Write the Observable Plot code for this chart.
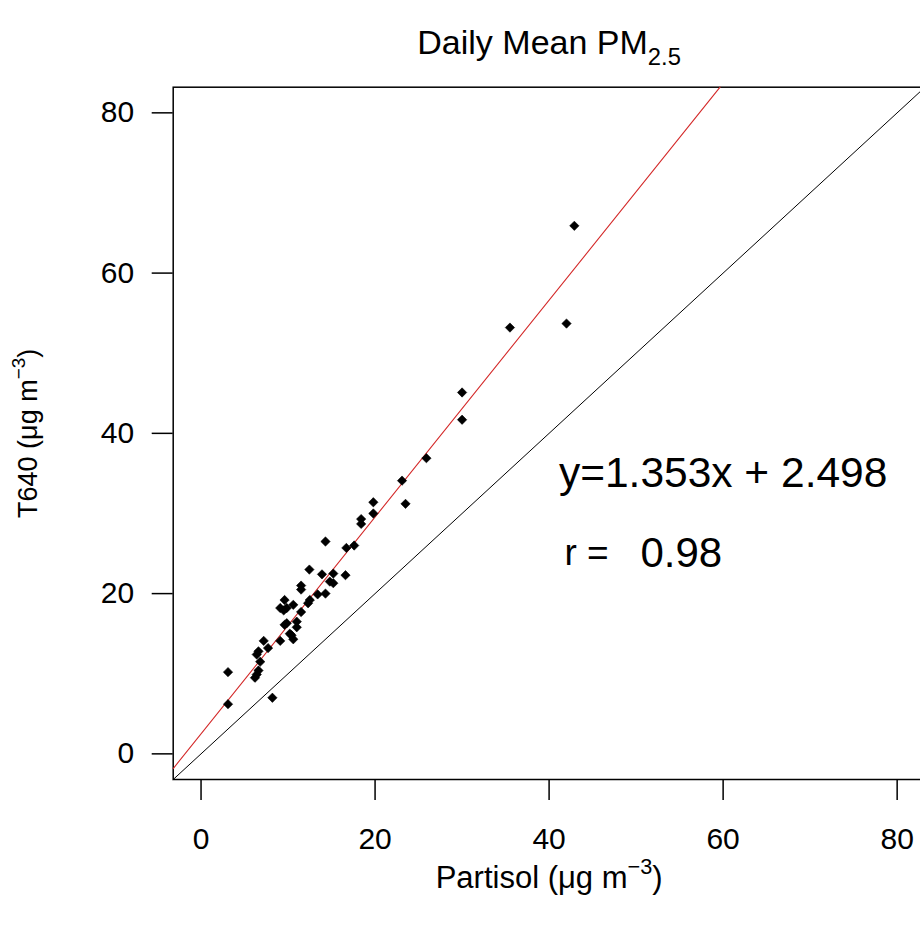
<!DOCTYPE html>
<html>
<head>
<meta charset="utf-8">
<script src="https://cdn.jsdelivr.net/npm/d3@7"></script>
<script src="https://cdn.jsdelivr.net/npm/@observablehq/plot@0.6"></script>
<style>
  html, body { margin: 0; padding: 0; background: #fff; overflow: hidden; }
  #chart svg { display: block; }
</style>
</head>
<body>
<div id="chart"></div>
<script>
// ---- data ----
const partisol = [3.1, 3.1, 8.2, 6.2, 6.4, 6.6, 6.8, 6.4, 6.6, 7.7,
                  7.2, 9.1, 10.6, 10.4, 10.2, 11.0, 9.6, 9.85, 11.0, 11.5,
                  9.85, 9.5, 9.1, 10.6, 9.6, 12.3, 12.5, 13.4, 14.3, 11.5,
                  11.5, 15.2, 14.8, 16.6, 15.2, 13.9, 12.45, 16.7, 17.6, 14.3,
                  18.4, 18.4, 19.8, 19.8, 23.5, 23.1, 25.9, 30.0, 30.0, 35.5,
                  42.0, 42.9];
const t640 = [6.2, 10.2, 7.0, 9.5, 9.9, 10.4, 11.5, 12.4, 12.8, 13.2,
              14.1, 14.1, 14.3, 14.8, 15.0, 15.8, 16.1, 16.3, 16.5, 17.7,
              18.2, 17.9, 18.2, 18.6, 19.2, 18.8, 19.2, 19.9, 20.0, 20.5,
              21.0, 21.3, 21.5, 22.3, 22.5, 22.4, 23.0, 25.7, 26.0, 26.5,
              28.7, 29.3, 30.0, 31.4, 31.2, 34.1, 36.9, 41.7, 45.1, 53.2,
              53.7, 65.9];
const xTicks = [0, 20, 40, 60, 80];
const yTicks = [0, 20, 40, 60, 80];
const axisDomain = [-3.2, 83.2];
const fitSlope = 1.353;
const fitIntercept = 2.498;
const titleText = "Daily Mean PM2.5";
const xLabelText = "Partisol (μg m−3)";
const yLabelText = "T640 (μg m−3)";
const eqText = "y=1.353x + 2.498";
const eqPos = [60, 35];
const rLabelText = "r =";
const rLabelPos = [44.3, 25];
const rValueText = "0.98";
const rValuePos = [55.2, 25];

// ---- derived tables ----
const points = partisol.map((x, i) => ({x, y: t640[i]}));
const fitLine = [axisDomain[0], (axisDomain[1] - fitIntercept) / fitSlope]
  .map(x => ({x, y: fitSlope * x + fitIntercept}));
const oneToOne = axisDomain.map(v => ({x: v, y: v}));

const FONT = "'Liberation Sans', Arial, Helvetica, sans-serif";

const chart = Plot.plot({
  width: 920,
  height: 934,
  marginTop: 86.7,
  marginLeft: 172.7,
  marginBottom: 155,
  marginRight: -4.5,
  style: {fontFamily: FONT, fontSize: "30px", color: "#000", background: "#fff", overflow: "hidden"},
  x: {domain: axisDomain},
  y: {domain: axisDomain},
  marks: [
    Plot.frame({stroke: "#000", strokeWidth: 1.5}),
    Plot.axisX({ticks: xTicks, tickSize: 21, tickPadding: 27, fontSize: 30, label: null, tickFormat: d => String(d), strokeWidth: 1.5}),
    Plot.axisY({ticks: yTicks, tickSize: 21, tickPadding: 18, fontSize: 30, label: null, tickFormat: d => String(d), strokeWidth: 1.5}),
    Plot.line(oneToOne, {x: "x", y: "y", stroke: "#000", strokeWidth: 1}),
    Plot.line(fitLine, {x: "x", y: "y", stroke: "#d42a2a", strokeWidth: 1.1}),
    Plot.dot(points, {x: "x", y: "y", symbol: "diamond2", r: 4.2, fill: "#000", stroke: "#000", strokeWidth: 0.6}),
    Plot.text([eqText], {x: [eqPos[0]], y: [eqPos[1]], fontSize: 42.5, textAnchor: "middle"}),
    Plot.text([rLabelText], {x: [rLabelPos[0]], y: [rLabelPos[1]], fontSize: 37, textAnchor: "middle"}),
    Plot.text([rValueText], {x: [rValuePos[0]], y: [rValuePos[1]], fontSize: 42, textAnchor: "middle"}),
    Plot.text([titleText], {frameAnchor: "top", dy: -57, fontSize: 34, textAnchor: "middle"}),
    Plot.text([xLabelText], {frameAnchor: "bottom", dy: 108, fontSize: 31, textAnchor: "middle"}),
    Plot.text([yLabelText], {frameAnchor: "left", dx: -145, rotate: -90, fontSize: 27, textAnchor: "middle"})
  ]
});

document.getElementById("chart").appendChild(chart);

// ---- rich text: subscripts / superscripts ----
function richify(plain, parts, size) {
  d3.select(chart).selectAll("text").filter(function() { return this.textContent === plain; })
    .each(function() {
      const t = d3.select(this);
      t.text(null);
      let shift = 0;
      parts.forEach(p => {
        const span = t.append("tspan").text(p.t);
        const target = p.sub ? size * 0.3 : p.sup ? -size * 0.45 : 0;
        const dy = target - shift;
        if (dy !== 0) span.attr("dy", dy);
        shift = target;
        if (p.sub || p.sup) span.attr("font-size", size * 0.7);
      });
    });
}
richify(titleText, [{t: "Daily Mean PM"}, {t: "2.5", sub: true}], 34);
richify(xLabelText, [{t: "Partisol (μg m"}, {t: "−3", sup: true}, {t: ")"}], 31);
richify(yLabelText, [{t: "T640 (μg m"}, {t: "−3", sup: true}, {t: ")"}], 27);
</script>
</body>
</html>
